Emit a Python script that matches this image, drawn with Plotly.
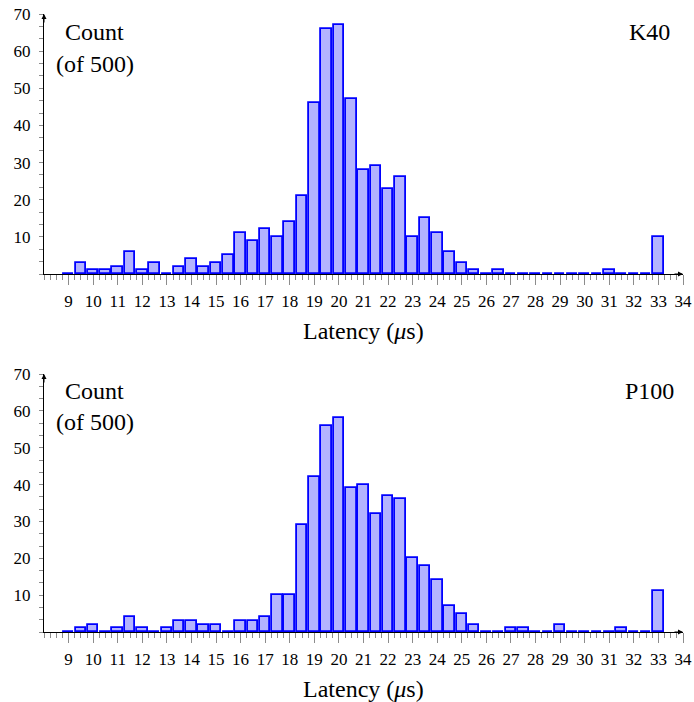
import plotly.graph_objects as go

# ---- data -------------------------------------------------------------
bin_centers = [9 + 0.5 * i for i in range(49)]  # 9.0 ... 33.0 (bin width 0.5 us)

k40_counts = [0, 3, 1, 1, 2, 6, 1, 3, 0, 2, 4, 2, 3, 5, 11, 9, 12, 10, 14, 21,
              46, 66, 67, 47, 28, 29, 23, 26, 10, 15, 11, 6, 3, 1, 0, 1, 0, 0,
              0, 0, 0, 0, 0, 0, 1, 0, 0, 0, 10]

p100_counts = [0, 1, 2, 0, 1, 4, 1, 0, 1, 3, 3, 2, 2, 0, 3, 3, 4, 10, 10, 29,
               42, 56, 58, 39, 40, 32, 37, 36, 20, 18, 14, 7, 5, 2, 0, 0, 1, 1,
               0, 0, 2, 0, 0, 0, 0, 1, 0, 0, 11]

x_tick_vals = list(range(9, 35))
x_tick_text = [str(v) for v in x_tick_vals]
y_tick_vals = [10, 20, 30, 40, 50, 60, 70]
y_tick_text = [str(v) for v in y_tick_vals]

panel_names = ["K40", "P100"]
x_title = "Latency (<i>μ</i>s)"
y_title_lines = ["Count", "(of 500)"]

# ---- style ------------------------------------------------------------
FONT = "Liberation Serif, Times New Roman, serif"
FILL = "#b3b3ff"
EDGE = "#0000ff"
TICKC = "#8c8c8c"
TICKFS = 17
TITLEFS = 24

W, H = 694, 702
ML, MR, MT, MB = 44, 11, 14, 70
top_dom = [(632 - 274) / 618, 1.0]
bot_dom = [0.0, (632 - 374) / 618]

fig = go.Figure()
for i, counts in enumerate([k40_counts, p100_counts]):
    xa = "x" if i == 0 else "x2"
    ya = "y" if i == 0 else "y2"
    fig.add_trace(go.Bar(
        x=bin_centers, y=counts, xaxis=xa, yaxis=ya,
        width=0.43,
        marker=dict(color=FILL, line=dict(color=EDGE, width=1.8)),
        showlegend=False, hoverinfo="x+y",
    ))

xcommon = dict(
    range=[8, 34], showgrid=False, zeroline=False, automargin=False,
    showline=True, linecolor="black", linewidth=1,
    tickmode="array", tickvals=x_tick_vals, ticktext=x_tick_text,
    ticks="outside", ticklen=10, tickwidth=1, tickcolor=TICKC,
    minor=dict(dtick=0.25, tick0=8, ticks="outside", ticklen=5,
               tickwidth=1, tickcolor=TICKC, showgrid=False),
    tickfont=dict(family=FONT, size=TICKFS, color="black"),
    ticklabelstandoff=2,
    fixedrange=True,
)
ycommon = dict(
    range=[0, 70], showgrid=False, zeroline=False, automargin=False,
    showline=True, linecolor="black", linewidth=1,
    tickmode="array", tickvals=y_tick_vals, ticktext=y_tick_text,
    ticks="outside", ticklen=4, tickwidth=1, tickcolor=TICKC,
    minor=dict(dtick=10 / 3, tick0=0, ticks="outside", ticklen=4,
               tickwidth=1, tickcolor=TICKC, showgrid=False),
    tickfont=dict(family=FONT, size=TICKFS, color="black"),
    ticklabelstandoff=5,
    fixedrange=True,
)
yinside = dict(
    range=[0, 70], showgrid=False, zeroline=False, showline=False, automargin=False,
    tickmode="array", tickvals=y_tick_vals, showticklabels=False,
    ticks="inside", ticklen=5, tickwidth=1, tickcolor=TICKC,
    minor=dict(dtick=10 / 3, tick0=0, ticks="inside", ticklen=5,
               tickwidth=1, tickcolor=TICKC, showgrid=False),
    fixedrange=True,
)

fig.update_layout(
    width=W, height=H,
    margin=dict(l=ML, r=MR, t=MT, b=MB, autoexpand=False),
    paper_bgcolor="white", plot_bgcolor="white",
    bargap=0,
    font=dict(family=FONT, color="black"),
    xaxis=dict(**xcommon, anchor="y"),
    yaxis=dict(**ycommon, domain=top_dom, anchor="x"),
    xaxis2=dict(**xcommon, anchor="y2"),
    yaxis2=dict(**ycommon, domain=bot_dom, anchor="x2"),
    yaxis3=dict(**yinside, overlaying="y", anchor="x"),
    yaxis4=dict(**yinside, overlaying="y2", anchor="x2"),
)

annots = []
for i, name in enumerate(panel_names):
    xd = "x domain" if i == 0 else "x2 domain"
    yd = "y domain" if i == 0 else "y2 domain"
    xr = "x" if i == 0 else "x2"
    yr = "y" if i == 0 else "y2"
    ycount = 0.927 if i == 0 else 0.930
    yof = 0.804 if i == 0 else 0.809
    annots += [
        dict(xref=xd, yref=yd, x=0.0798, y=ycount, yshift=1, text=y_title_lines[0],
             showarrow=False, xanchor="center", yanchor="middle",
             font=dict(family=FONT, size=TITLEFS, color="black")),
        dict(xref=xd, yref=yd, x=0.0798, y=yof, yshift=1, text=y_title_lines[1],
             showarrow=False, xanchor="center", yanchor="middle",
             font=dict(family=FONT, size=TITLEFS, color="black")),
        dict(xref=xd, yref=yd, x=0.947, y=ycount, yshift=1, text=name,
             showarrow=False, xanchor="center", yanchor="middle",
             font=dict(family=FONT, size=TITLEFS, color="black")),
        dict(xref=xd, yref=yd, x=0.5, y=0, yshift=-57, text=x_title,
             showarrow=False, xanchor="center", yanchor="middle",
             font=dict(family=FONT, size=TITLEFS, color="black")),
        # axis arrowheads
        dict(xref=xr, yref=yr, x=34, y=0, ax=-10, ay=0, axref="pixel", ayref="pixel",
             text="", showarrow=True, arrowhead=2, arrowsize=1, arrowwidth=1,
             arrowcolor="black"),
        dict(xref=xr, yref=yr, x=8, y=70, ax=0, ay=10, axref="pixel", ayref="pixel",
             text="", showarrow=True, arrowhead=2, arrowsize=1, arrowwidth=1,
             arrowcolor="black"),
    ]
fig.update_layout(annotations=annots)

fig.write_html("out.html")
